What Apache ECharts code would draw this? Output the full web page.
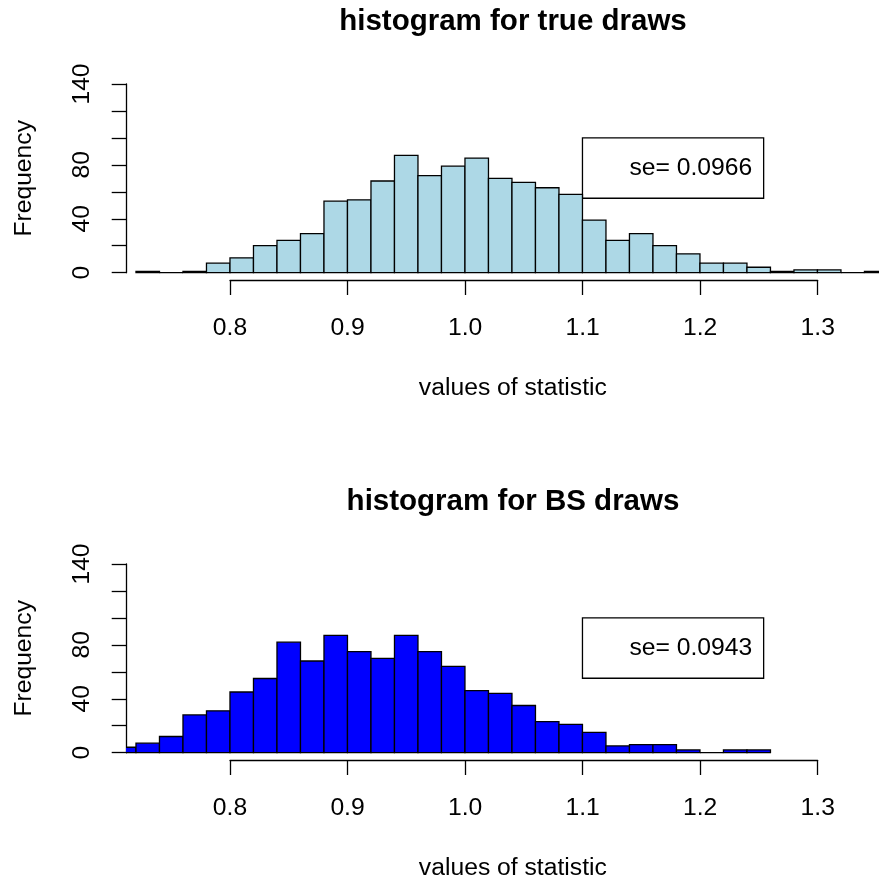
<!DOCTYPE html>
<html>
<head>
<meta charset="utf-8">
<script src="https://cdn.jsdelivr.net/npm/echarts@6/dist/echarts.min.js"></script>
<style>
  html, body { margin: 0; padding: 0; background: #fff; }
  #chart { width: 879px; height: 882px; }
</style>
</head>
<body>
<div id="chart"></div>
<script>
// histogram bins (width 0.02) and counts
const binWidth = 0.02
const trueBinStarts = [0.72, 0.74, 0.76, 0.78, 0.80, 0.82, 0.84, 0.86, 0.88, 0.90, 0.92, 0.94, 0.96, 0.98, 1.00, 1.02,
  1.04, 1.06, 1.08, 1.10, 1.12, 1.14, 1.16, 1.18, 1.20, 1.22, 1.24, 1.26, 1.28, 1.30, 1.32, 1.34]
const trueCounts = [1, 0, 1, 7, 11, 20, 24, 29, 53, 54, 68, 87, 72, 79, 85, 70,
  67, 63, 58, 39, 24, 29, 20, 14, 7, 7, 4, 1, 2, 2, 0, 1]
const bsBinStarts = [0.70, 0.72, 0.74, 0.76, 0.78, 0.80, 0.82, 0.84, 0.86, 0.88, 0.90, 0.92, 0.94, 0.96,
  0.98, 1.00, 1.02, 1.04, 1.06, 1.08, 1.10, 1.12, 1.14, 1.16, 1.18, 1.20, 1.22, 1.24]
const bsCounts = [4, 7, 12, 28, 31, 45, 55, 82, 68, 87, 75, 70, 87, 75,
  64, 46, 44, 35, 23, 21, 15, 5, 6, 6, 2, 0, 2, 2]

const yTickLabels = [0, 40, 80, 140]
const titles = ['histogram for true draws', 'histogram for BS draws']
const seLabels = ['se= 0.0966', 'se= 0.0943']
const fills = ['#ADD8E6', '#0000FF']
const legendCorner = [[1.1, 100], [1.2542, 55.2]]

const FONT = '"Liberation Sans", Arial, Helvetica, sans-serif'
const AXIS_FONT = 24.7
const SHIFT = 480
const axisStroke = { color: '#000', width: 1.3 }

const grids = [], xAxes = [], yAxes = [], series = [], titleList = []

function addPanel(p, starts, counts) {
  const dy = p * SHIFT
  // plot region (usr coordinates) runs past the right edge; the axis frame spans the ticks only
  grids.push({ left: 126.7, top: 76.4 + dy, width: 772.3, height: 203.8, outerBoundsMode: 'none', containLabel: false })
  grids.push({ left: 230, top: 84 + dy, width: 587.7, height: 188.7, outerBoundsMode: 'none', containLabel: false })

  xAxes.push({
    gridIndex: 2 * p, type: 'value', min: 0.7121, max: 1.3694,
    axisLine: { show: false }, axisTick: { show: false }, axisLabel: { show: false }, splitLine: { show: false },
    name: 'values of statistic', nameLocation: 'middle', nameGap: 95,
    nameTextStyle: { fontSize: AXIS_FONT, color: '#000', fontFamily: FONT }
  })
  xAxes.push({
    gridIndex: 2 * p + 1, type: 'value', min: 0.8, max: 1.3, interval: 0.1, offset: 8,
    axisLine: { show: true, onZero: false, lineStyle: axisStroke },
    axisTick: { show: true, length: 14.3, lineStyle: axisStroke },
    axisLabel: { fontSize: AXIS_FONT, color: '#000', fontFamily: FONT, margin: 35, formatter: v => v.toFixed(1) },
    splitLine: { show: false }
  })
  yAxes.push({
    gridIndex: 2 * p, type: 'value', min: -5.6, max: 145.6,
    axisLine: { show: false }, axisTick: { show: false }, axisLabel: { show: false }, splitLine: { show: false },
    name: 'Frequency', nameLocation: 'middle', nameRotate: 90, nameGap: 90,
    nameTextStyle: { fontSize: AXIS_FONT, color: '#000', fontFamily: FONT }
  })
  yAxes.push({
    gridIndex: 2 * p + 1, type: 'value', min: 0, max: 140, interval: 20, offset: 103.3,
    axisLine: { show: true, onZero: false, lineStyle: axisStroke },
    axisTick: { show: true, length: 15, lineStyle: axisStroke },
    axisLabel: {
      rotate: 90, margin: 32, fontSize: AXIS_FONT, color: '#000', fontFamily: FONT,
      formatter: v => yTickLabels.includes(v) ? String(v) : ''
    },
    splitLine: { show: false }
  })

  titleList.push({
    text: titles[p], left: 513, top: 7 + dy, textAlign: 'center', padding: 0,
    textStyle: { fontSize: 29.5, fontWeight: 'bold', color: '#000', fontFamily: FONT }
  })

  const fill = fills[p]
  series.push({
    type: 'custom', xAxisIndex: 2 * p, yAxisIndex: 2 * p, clip: true,
    data: starts.map((s, i) => [s, counts[i]]),
    renderItem(params, api) {
      const x0 = api.value(0)
      const n = api.value(1)
      const a = api.coord([x0, 0])
      const b = api.coord([x0 + binWidth, n])
      return {
        type: 'rect',
        shape: { x: a[0], y: b[1], width: b[0] - a[0], height: a[1] - b[1] },
        style: { fill: fill, stroke: '#000', lineWidth: 1.3 }
      }
    },
    markArea: {
      silent: true,
      itemStyle: { color: '#fff', borderColor: '#000', borderWidth: 1.3 },
      label: {
        show: true, position: 'insideRight', distance: 12, formatter: seLabels[p],
        color: '#000', fontSize: AXIS_FONT, fontFamily: FONT
      },
      data: [[{ coord: legendCorner[0] }, { coord: legendCorner[1] }]]
    }
  })
}

addPanel(0, trueBinStarts, trueCounts)
addPanel(1, bsBinStarts, bsCounts)

const chart = echarts.init(document.getElementById('chart'), null, { renderer: 'canvas' })
chart.setOption({
  backgroundColor: '#fff',
  animation: false,
  title: titleList,
  grid: grids,
  xAxis: xAxes,
  yAxis: yAxes,
  series: series
})
</script>
</body>
</html>
